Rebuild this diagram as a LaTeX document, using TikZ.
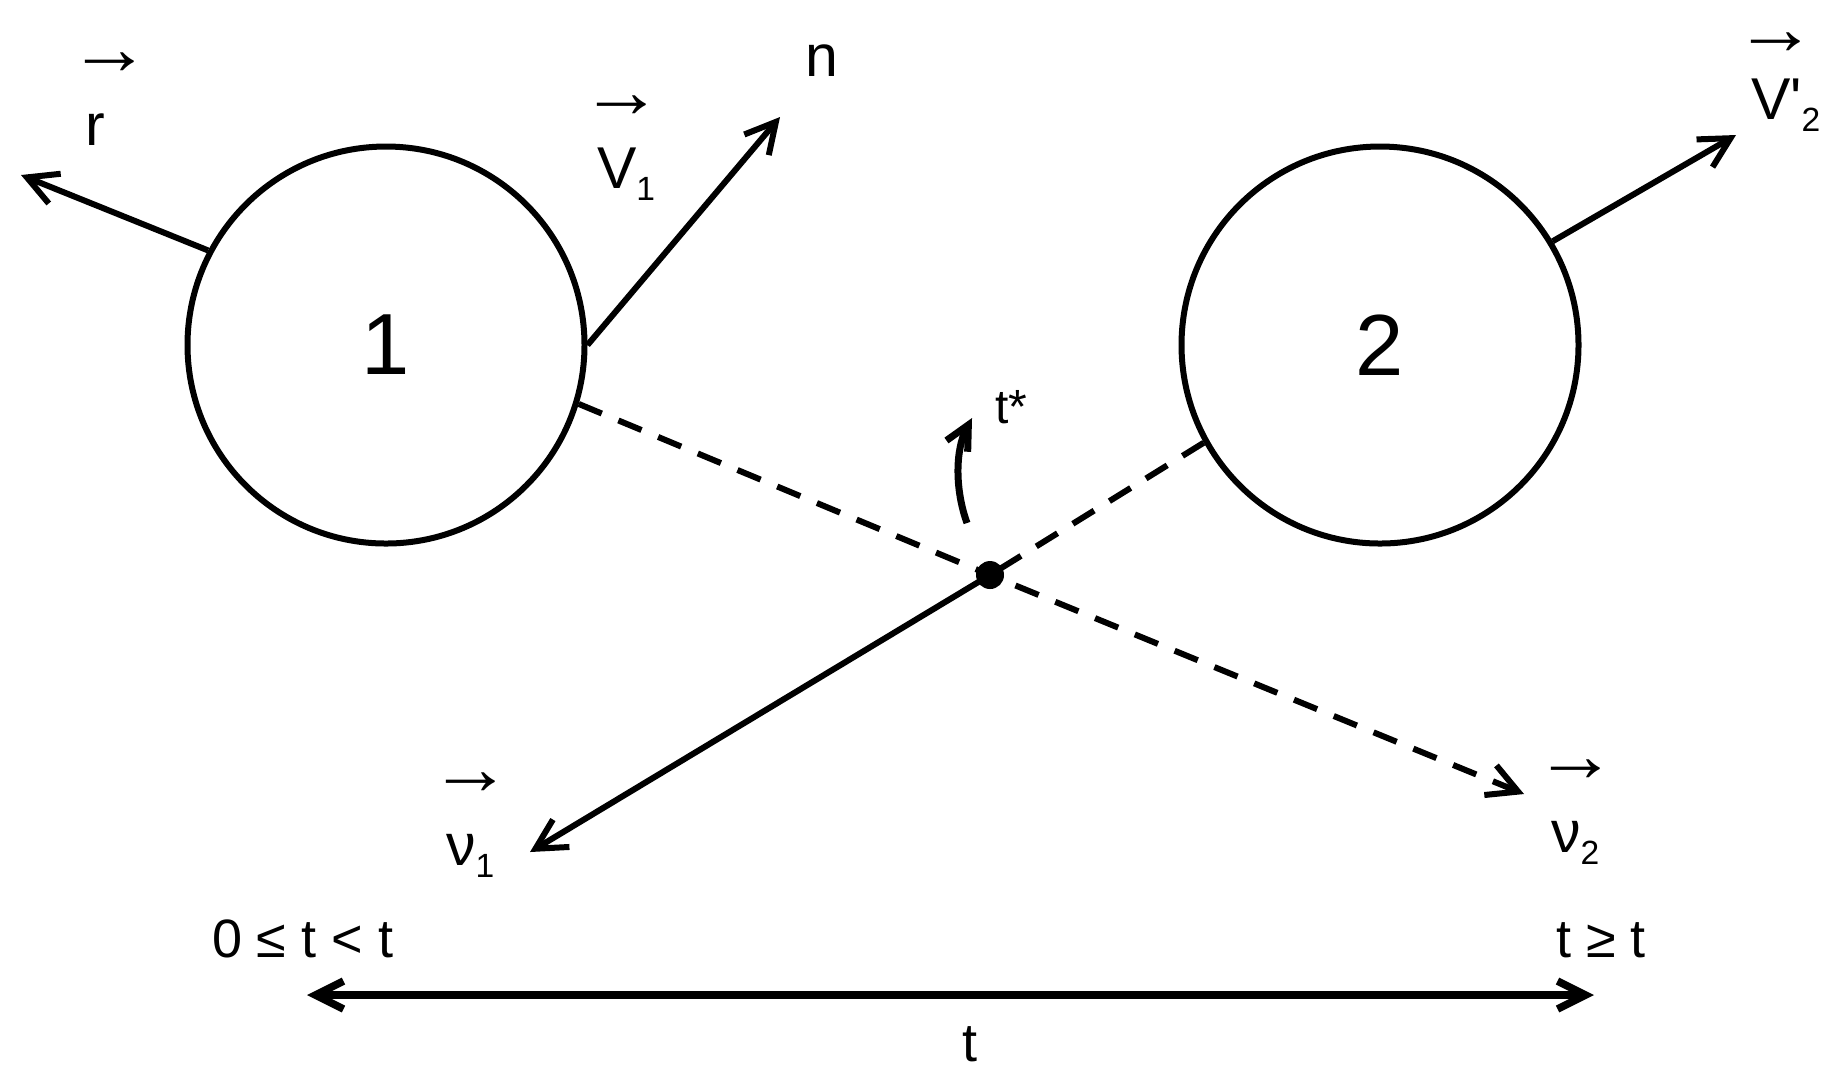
\documentclass[tikz,border=0pt]{standalone}
\usepackage{fontspec}
\setmainfont{Liberation Sans}
\usetikzlibrary{arrows.meta,positioning}
\newcommand{\lowsub}[1]{\raisebox{-2.8pt}{\fontsize{8.4}{10}\selectfont #1}}
\newcommand{\vecmark}{\kern-4.25pt\scalebox{1.4}[1.3]{→}}

\begin{document}
\begin{tikzpicture}[x=0.25pt,y=-0.25pt,line width=1.5pt]

\tikzset{
	particle/.style={
		circle,
		draw,
		minimum size=99.25pt,
		inner sep=0pt,
		line width=1.5pt,
		font=\fontsize{21.7}{26}\selectfont
	}
}

\tikzset{
	impact/.style={
		circle,
		fill=black,
		minimum size=7pt,
		inner sep=0pt
	}
}

\tikzset{
	vecArrow/.style={
		line width=1.5pt,
		-{Straight Barb[length=7.5pt,width=8pt]}
	}
}

\tikzset{
	dashArrow/.style={
		vecArrow,
		dash pattern=on 6.25pt off 4.5pt
	}
}

\tikzset{
	vecLabel/.style={
		align=left,
		anchor=south west,
		inner sep=0pt,
		font=\fontsize{14.75}{17.75}\selectfont
	},
	plainLabel/.style={
		inner sep=0pt,
		font=\fontsize{14.75}{18}\selectfont
	},
	timeLabel/.style={
		inner sep=0pt,
		font=\fontsize{13.5}{16}\selectfont
	}
}

\useasboundingbox (0,0) rectangle (1838,1086);

\node[particle](P1) at (386,345) {1};
\node[particle](P2) at (1380,345) {2};
\node[impact](Hit) at (990,575) {};

\coordinate (rTip) at (21,175);
\coordinate (nTip) at (780,117);
\coordinate (v2pTip) at (1736,135);
\coordinate (v2Tip) at (1524,794);
\coordinate (v1Tip) at (530,852);
\coordinate (turnStart) at (967,523);
\coordinate (turnTip) at (972,418);
\coordinate (tStart) at (307,995);
\coordinate (tEnd) at (1594,995);

\node[vecLabel](rLab) at (82,148) {\vecmark\\r};
\node[vecLabel](v1Lab) at (594,203) {\vecmark\\V\lowsub{1}};
\node[vecLabel](v2pLab) at (1748,134) {\vecmark\\[-1.5pt]V\textquotesingle\lowsub{2}};
\node[vecLabel](nu1Lab) at (443,880) {\vecmark\\ν\lowsub{1}};
\node[vecLabel](nu2Lab) at (1548,867) {\vecmark\\ν\lowsub{2}};
\node[plainLabel, anchor=base west](nLab) at (802,76) {n};
\node[plainLabel, anchor=base west, font=\fontsize{12}{14}\selectfont](tStarLab) at (992,423) {t*};

\node[timeLabel, anchor=base west](beforeLab) at (209,957) {0 ≤ t < t};
\node[timeLabel, anchor=base west](afterLab) at (1553,957) {t ≥ t};
\node[timeLabel, anchor=base](tLab) at (970,1061) {t};

\path[vecArrow] (P1.152) edge (rTip);
\path[vecArrow] (P1.east) edge (nTip);
\path[vecArrow] (P2.31) edge (v2pTip);
\path[vecArrow] (Hit.center) edge (v1Tip);

\draw[dashArrow] (P1.-17) -- (Hit.center) -- (v2Tip);
\draw[dashArrow, -] (P2.209) -- (Hit.center);

\draw[line width=1.75pt, -{Straight Barb[length=6pt,width=6pt]}] (turnStart) .. controls (955,490) and (955,450) .. (turnTip);

\draw[line width=1.9pt, {Straight Barb[length=7pt,width=7pt]}-{Straight Barb[length=7pt,width=7pt]}] (tStart) -- (tEnd);

\end{tikzpicture}
\end{document}
